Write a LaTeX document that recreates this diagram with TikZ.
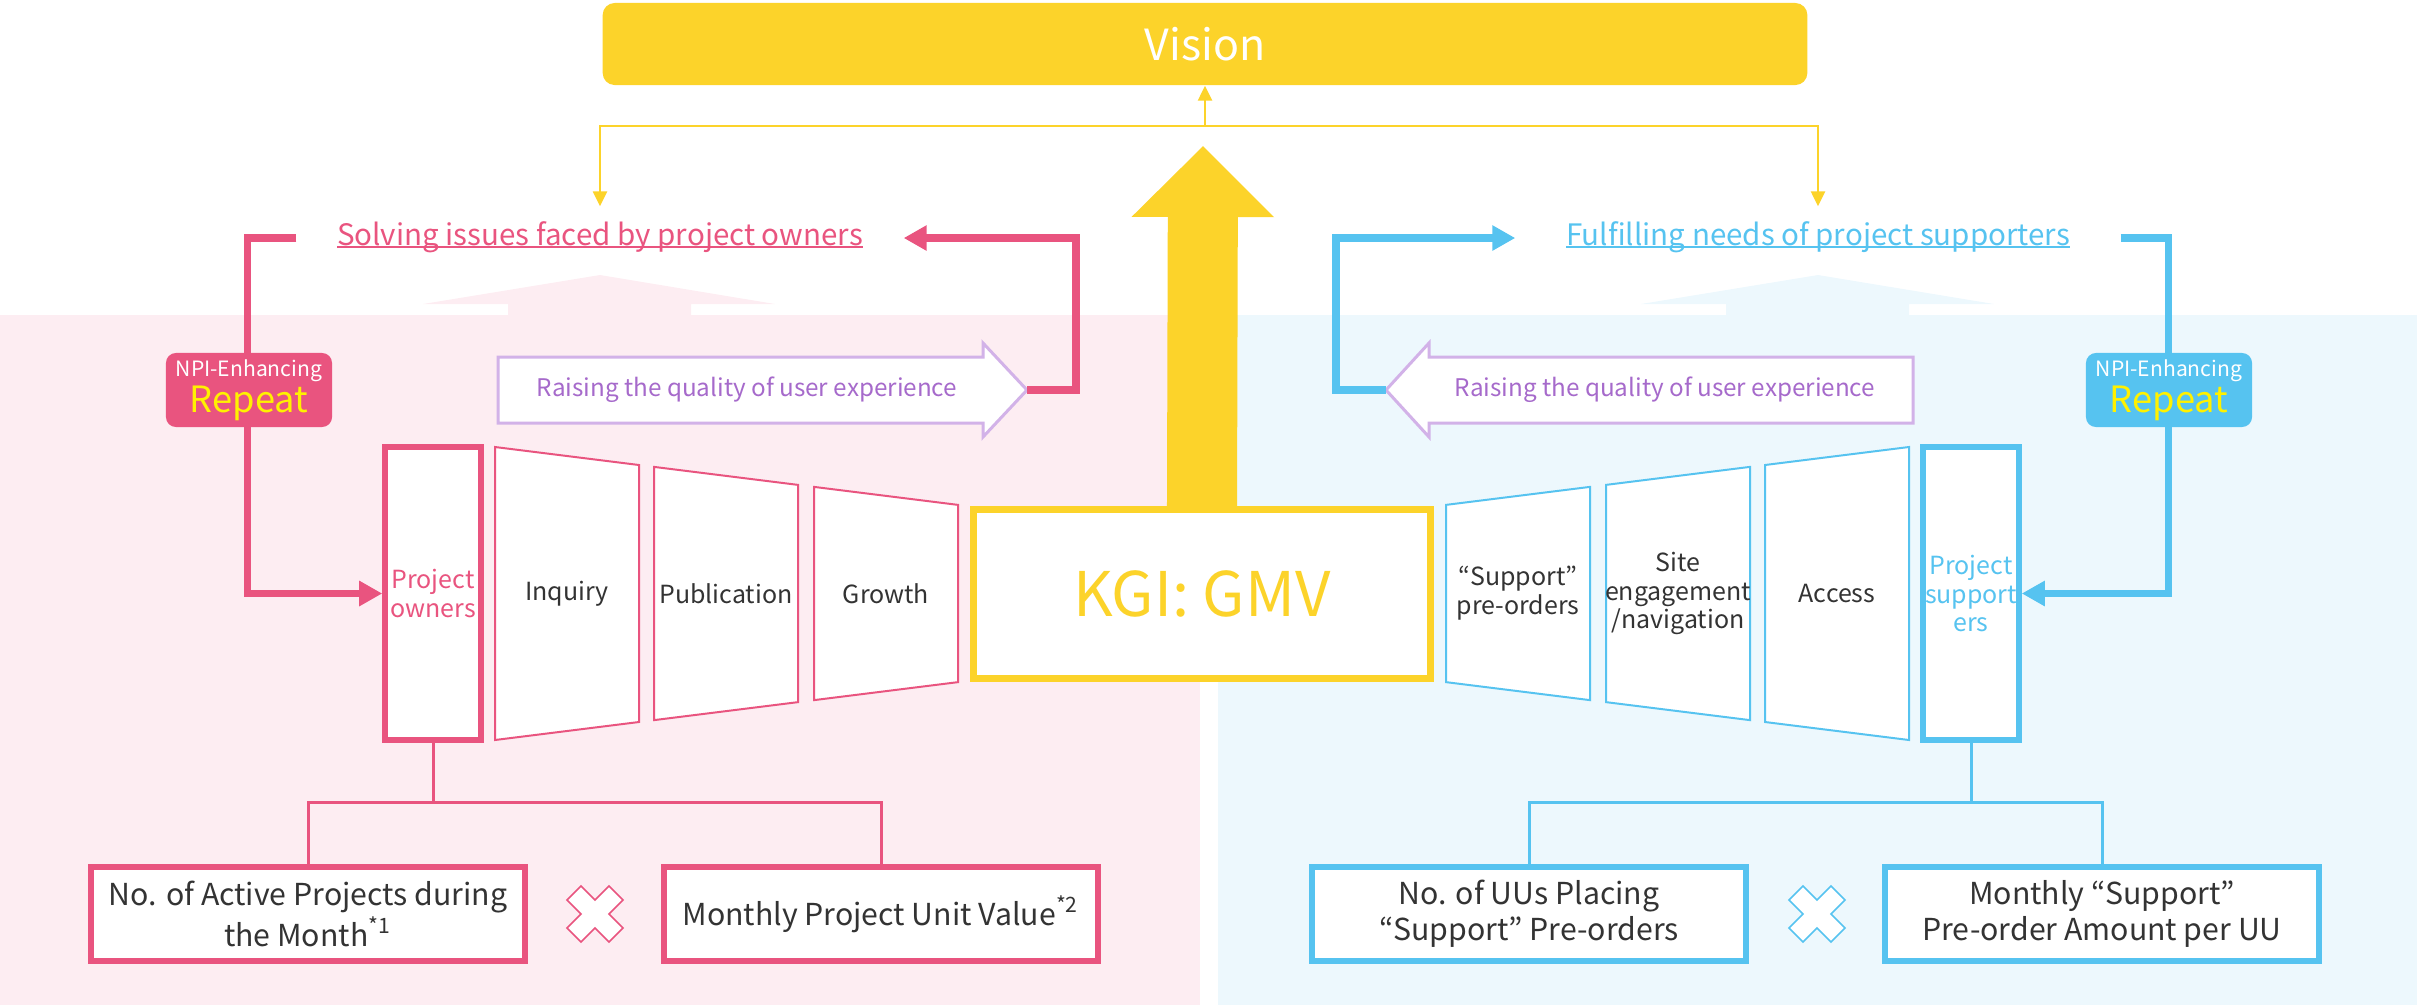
\documentclass[tikz,border=0pt]{standalone}
\usepackage{fontspec}
\setmainfont{Noto Sans CJK JP}
\usetikzlibrary{arrows.meta,positioning}

\definecolor{mkpink}{HTML}{E9547F}
\definecolor{mkblue}{HTML}{56C3F0}
\definecolor{mkyellow}{HTML}{FCD32A}
\definecolor{pinkbg}{HTML}{FDEDF2}
\definecolor{bluebg}{HTML}{EDF8FD}
\definecolor{lilac}{HTML}{D2B2E8}
\definecolor{lilactext}{HTML}{A66ACB}
\definecolor{darktext}{HTML}{333333}
\definecolor{repeatyellow}{HTML}{FFF100}

\newcommand\goalline[1]{\setbox0\hbox{#1}\rlap{\rule[-0.09em]{\wd0}{0.06em}}#1}

\begin{document}
\begin{tikzpicture}[x=0.01cm,y=-0.01cm,
    thickpink/.style={draw=mkpink,line width=0.075cm},
    thickblue/.style={draw=mkblue,line width=0.075cm},
    thinpink/.style={draw=mkpink,line width=0.03cm},
    thinblue/.style={draw=mkblue,line width=0.03cm},
    yline/.style={draw=mkyellow,line width=0.025cm,-{Triangle[length=0.15cm,width=0.14cm]}},
    looptip/.style={-{Triangle[length=0.23cm,width=0.24cm]}},
    goal/.style={inner xsep=0.4cm,inner ysep=0pt,minimum height=0.62cm,text height=0.22cm,text depth=0.07cm,
        font=\fontsize{8.4pt}{10pt}\selectfont},
    raise/.style={draw=lilac,line width=0.03cm,fill=white},
    raisetext/.style={text=lilactext,font=\fontsize{6.9pt}{8pt}\selectfont},
    badge/.style={rounded corners=0.1cm,minimum width=1.66cm,minimum height=0.74cm,inner sep=0pt,align=center,
        text=white,font=\fontsize{6pt}{10.2pt}\selectfont},
    stagebox/.style={draw,line width=0.055cm,fill=white,minimum width=0.96cm,minimum height=2.93cm,inner sep=0pt,
        align=center,font=\fontsize{7.1pt}{8.2pt}\selectfont},
    stagetext/.style={align=center,inner sep=0pt,text=darktext,font=\fontsize{7.1pt}{8.2pt}\selectfont},
    userbox/.style={draw,line width=0.055cm,fill=white,minimum width=4.34cm,minimum height=0.94cm,align=center,
        text=darktext,font=\fontsize{8.6pt}{10.2pt}\selectfont}]

\useasboundingbox (0,0) rectangle (2417,1005);

% backgrounds and pale arrows
\fill[pinkbg] (0,315) rectangle (1200,1005);
\fill[bluebg] (1218,315) rectangle (2417,1005);
\fill[pinkbg] (508,316) -- (508,304) -- (423,304) -- (600,275) -- (775,304) -- (691,304) -- (691,316) -- cycle;
\fill[bluebg] (1726,316) -- (1726,304) -- (1641,304) -- (1818,275) -- (1994,304) -- (1909,304) -- (1909,316) -- cycle;

% top
\node[fill=mkyellow,rounded corners=0.12cm,minimum width=12.04cm,minimum height=0.82cm,text=white,
    font=\fontsize{12.2pt}{14pt}\selectfont] (vision) at (1205,44) {Vision};
\node[goal,text=mkpink] (goalL) at (600,238) {\goalline{Solving issues faced by project owners}};
\node[goal,text=mkblue,inner xsep=0.5cm] (goalR) at (1818,238) {\goalline{Fulfilling needs of project supporters}};

\coordinate (fork) at (1205,126);
\draw[yline] (fork) -- (vision.south);
\draw[yline] (fork) -| (goalL.north);
\draw[yline] (fork) -| (goalR.north);

% KGI and big arrow
\node[draw=mkyellow,line width=0.07cm,fill=white,minimum width=4.56cm,minimum height=1.69cm,text=mkyellow,
    font=\fontsize{17.5pt}{19pt}\selectfont] (kgi) at (1202,594) {KGI: GMV};
\coordinate (kgitop) at (1203,146);
\draw[mkyellow,line width=0.70cm,-{Triangle[length=0.71cm,width=1.38cm]}] (kgi.north) -- (kgitop);

% raising arrows
\draw[raise] (498,357) -- (983,357) -- (983,343) -- (1027,390) -- (983,437) -- (983,423) -- (498,423) -- cycle;
\coordinate (raiseLtip) at (1027,390);
\node[raisetext] (raiseL) at (747,390) {Raising the quality of user experience};
\draw[raise] (1913,357) -- (1429,357) -- (1429,343) -- (1386,390) -- (1429,437) -- (1429,423) -- (1913,423) -- cycle;
\coordinate (raiseRtip) at (1386,390);
\node[raisetext] (raiseR) at (1665,390) {Raising the quality of user experience};

% funnels
\node[stagebox,draw=mkpink,text=mkpink] (owners) at (433,593.5) {Project\\owners};
\node[stagebox,draw=mkblue,text=mkblue] (supporters) at (1971,593.5) {Project\\support\\ers};

\foreach \x/\lnm/\ltxt/\rnm/\rtxt in {495/inquiry/Inquiry/access/Access,
    654/publication/Publication/site/{Site\\engagement\\/navigation},
    814/growth/Growth/preorders/{“Support”\\pre-orders}}{
  \pgfmathsetmacro\ha{146.5-0.125*(\x-495)}
  \pgfmathsetmacro\hb{\ha-18}
  \draw[mkpink,line width=0.02cm,fill=white] (\x,593.5-\ha) -- (\x+144,593.5-\hb) -- (\x+144,593.5+\hb) -- (\x,593.5+\ha) -- cycle;
  \node[stagetext] (\lnm) at (\x+72,593.5) {\ltxt};
  \draw[mkblue,line width=0.02cm,fill=white] (2260-\x,593.5-\hb) -- (2404-\x,593.5-\ha) -- (2404-\x,593.5+\ha) -- (2260-\x,593.5+\hb) -- cycle;
  \node[stagetext] (\rnm) at (2332-\x,593.5) {\rtxt};
}

% loops
\draw[thickpink,looptip] (raiseLtip) -- ++(49,0) |- (goalL.east);
\draw[thickpink,looptip] (goalL.west) -- ++(-49,0) |- (owners.west);
\draw[thickblue,looptip] (raiseRtip) -- ++(-50,0) |- (goalR.west);
\draw[thickblue,looptip] (goalR.east) -- ++(48,0) |- (supporters.east);

\node[badge,fill=mkpink] (repeatL) at (249,390) {NPI-Enhancing\\{\fontsize{10.3pt}{10.2pt}\selectfont\color{repeatyellow}Repeat}};
\node[badge,fill=mkblue] (repeatR) at (2169,390) {NPI-Enhancing\\{\fontsize{10.3pt}{10.2pt}\selectfont\color{repeatyellow}Repeat}};

% bottom
\node[userbox,draw=mkpink] (activeprojects) at (308,914) {No. of Active Projects during\\the Month\textsuperscript{*1}};
\node[userbox,draw=mkpink] (unitvalue) at (881,914) {Monthly Project Unit Value\textsuperscript{*2}};
\node[userbox,draw=mkblue] (uus) at (1529,914) {No. of UUs Placing\\“Support" Pre-orders};
\node[userbox,draw=mkblue] (amount) at (2102,914) {Monthly “Support"\\Pre-order Amount per UU};

\draw[thinpink] (owners.south) -- ++(0,60) coordinate (ownerjoin);
\draw[thinpink] (activeprojects.north) |- (ownerjoin) -| (unitvalue.north);
\draw[thinblue] (supporters.south) -- ++(0,60) coordinate (supjoin);
\draw[thinblue] (uus.north) |- (supjoin) -| (amount.north);

\foreach \cx/\col in {595/mkpink,1817/mkblue}
  \draw[draw=\col,fill=white,line width=0.015cm,shift={(\cx,914)}] (-28,-14) -- (-14,-28) -- (0,-14) -- (14,-28) -- (28,-14) -- (14,0)
    -- (28,14) -- (14,28) -- (0,14) -- (-14,28) -- (-28,14) -- (-14,0) -- cycle;

\end{tikzpicture}
\end{document}
